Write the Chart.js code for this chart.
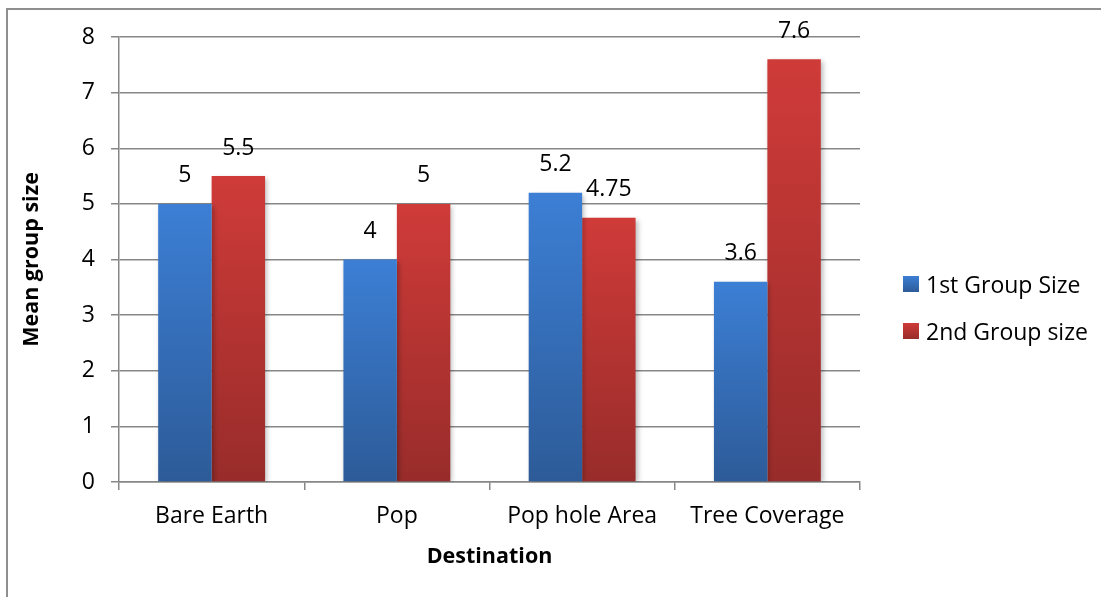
<!DOCTYPE html>
<html>
<head>
<meta charset="utf-8">
<script src="https://cdn.jsdelivr.net/npm/chart.js@4"></script>
<style>
  html, body { margin: 0; padding: 0; background: #fff; overflow: hidden; }
  #wrap { position: relative; width: 1101px; height: 597px; overflow: hidden; }
  #frame { position: absolute; left: 6px; top: 8px; width: 1120px; height: 620px; border: 2px solid #8f8f8f; }
  canvas { position: absolute; left: 0; top: 0; }
  .legend { position: absolute; left: 903px; font: 23px "Open Sans", sans-serif; color: #000; }
  .legend div { position: relative; height: 47px; line-height: 16px; padding-left: 23px; white-space: nowrap; }
  .legend span { position: absolute; left: 0; top: 0; width: 16px; height: 16px; }
</style>
</head>
<body>
<div id="wrap">
  <div id="frame"></div>
  <canvas id="chart" width="1101" height="597"></canvas>
  <div class="legend" id="legend" style="top:276px"></div>
</div>
<script>
const categories = ["Bare Earth", "Pop", "Pop hole Area", "Tree Coverage"];
const firstGroup = [5, 4, 5.2, 3.6];
const secondGroup = [5.5, 5, 4.75, 7.6];
const seriesNames = ["1st Group Size", "2nd Group size"];
const yTicks = [0, 1, 2, 3, 4, 5, 6, 7, 8];

const FONT = '"Open Sans", sans-serif';
const GRID = "#878787";

// top / bottom colours of each series' bar gradient
const shades = [
  ["#3c7fd5", "#2d5b98"],
  ["#cf3b39", "#982c2a"]
];

// each bar gets its own vertical gradient, light at the top, dark at the base
function barFill(i) {
  return (ctx) => {
    const chart = ctx.chart;
    const y = chart.scales.y;
    if (!y || ctx.dataIndex === undefined) return shades[i][0];
    const v = ctx.dataset.data[ctx.dataIndex];
    const top = y.getPixelForValue(v);
    const base = y.getPixelForValue(0);
    if (!isFinite(top) || !isFinite(base) || top === base) return shades[i][0];
    const g = chart.ctx.createLinearGradient(0, top, 0, base);
    g.addColorStop(0, shades[i][0]);
    g.addColorStop(1, shades[i][1]);
    return g;
  };
}

const barLabels = {
  id: "barLabels",
  beforeDatasetsDraw(chart) {
    const c = chart.ctx;
    c.save();
    c.shadowColor = "rgba(0,0,0,0.28)";
    c.shadowBlur = 5;
    c.shadowOffsetX = 2;
    c.shadowOffsetY = 2;
  },
  afterDatasetsDraw(chart) {
    const c = chart.ctx;
    c.restore();
    c.save();
    c.font = "23px " + FONT;
    c.fillStyle = "#000";
    c.textAlign = "center";
    c.textBaseline = "middle";
    chart.data.datasets.forEach((ds, di) => {
      chart.getDatasetMeta(di).data.forEach((bar, i) => {
        c.fillText(String(ds.data[i]), bar.x, bar.y - 28);
      });
    });
    c.restore();
  }
};

const chart = new Chart(document.getElementById("chart"), {
  type: "bar",
  data: {
    labels: categories,
    datasets: [
      { label: seriesNames[0], data: firstGroup, backgroundColor: barFill(0) },
      { label: seriesNames[1], data: secondGroup, backgroundColor: barFill(1) }
    ]
  },
  options: {
    responsive: false,
    animation: false,
    layout: { padding: { top: 37, right: 241, left: 0, bottom: 0 } },
    datasets: { bar: { categoryPercentage: 0.577, barPercentage: 1 } },
    plugins: { legend: { display: false }, tooltip: { enabled: false } },
    scales: {
      x: {
        afterFit: (s) => { s.height = 115; },
        grid: { drawOnChartArea: false, color: GRID, lineWidth: 1.5, tickLength: 8 },
        border: { color: GRID, width: 1.5 },
        ticks: { color: "#000", font: { family: FONT, size: 23 }, padding: 13 },
        title: {
          display: true, text: "Destination", color: "#000",
          font: { family: FONT, size: 21.5, weight: "bold" }, padding: { bottom: 27 }
        }
      },
      y: {
        min: 0, max: 8,
        afterFit: (s) => { s.width = 119; },
        afterBuildTicks: (s) => { s.ticks = yTicks.map((v) => ({ value: v })); },
        grid: { color: GRID, lineWidth: 1.5, tickLength: 8 },
        border: { color: GRID, width: 1.5 },
        ticks: { color: "#000", font: { family: FONT, size: 23 }, padding: 16 },
        title: {
          display: true, text: "Mean group size", color: "#000",
          font: { family: FONT, size: 21.5, weight: "bold" }, padding: { top: 19 }
        }
      }
    }
  },
  plugins: [barLabels]
});

// legend beside the plot
const legend = document.getElementById("legend");
chart.data.datasets.forEach((ds, i) => {
  const row = document.createElement("div");
  row.innerHTML = `<span style="background:linear-gradient(${shades[i][0]},${shades[i][1]})"></span>${ds.label}`;
  legend.appendChild(row);
});
</script>
</body>
</html>
